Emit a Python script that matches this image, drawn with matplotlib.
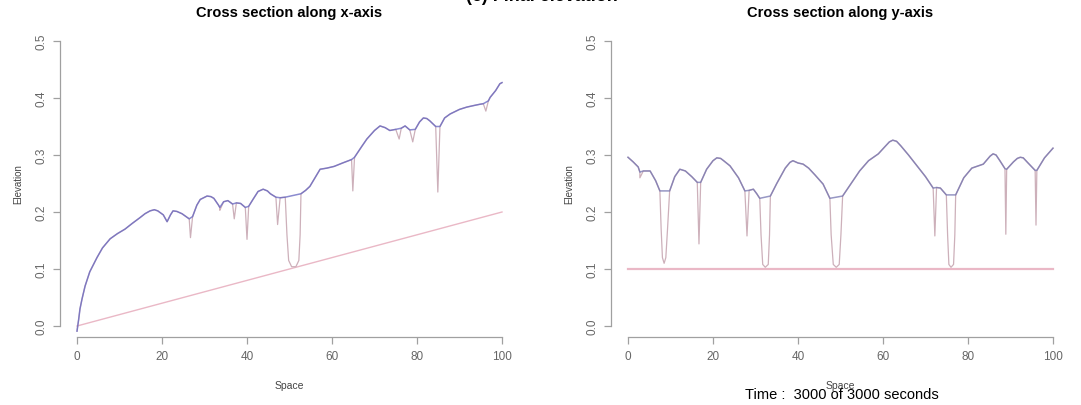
import matplotlib.pyplot as plt
import numpy as np

plt.rcParams['font.family'] = ['Liberation Sans', 'DejaVu Sans']

# along x: free surface (blue, bridges the pits)
sx_x = [0, 0.4, 0.7, 1.2, 1.9, 3.0, 4.7, 6.0, 7.8, 9.5, 11.3, 13, 14.8, 16, 17.2, 18.2, 19,
        20.3, 21.2, 22.0, 22.6, 23.5, 24.7, 26.4, 27.2, 28.2, 29, 30.6, 31.5, 32.2, 33.3,
        33.6, 34.5, 35.5, 36.6, 37.5, 38.5, 39.6, 40.4, 41.4, 42.6, 43.8, 44.8, 45.5, 46.8,
        47.8, 49.0, 52.7, 53.8, 54.8, 56, 57.2, 58.8, 60.5, 62.5, 64.6, 65.3, 67, 68.2, 70,
        71.3, 72.5, 73.6, 75, 76.3, 77.2, 78.3, 79.6, 80.6, 81.5, 82.3, 83, 84.4, 85.4,
        86.5, 87.8, 90, 91.7, 93.5, 94.8, 95.6, 96.8, 97.2, 98.5, 99.5, 100]
sx_y = [-0.009, 0.012, 0.03, 0.048, 0.07, 0.095, 0.12, 0.137, 0.153, 0.162, 0.17, 0.18,
        0.19, 0.197, 0.202, 0.204, 0.202, 0.195, 0.183, 0.195, 0.202, 0.201, 0.197, 0.188,
        0.192, 0.212, 0.222, 0.228, 0.227, 0.224, 0.212, 0.208, 0.218, 0.22, 0.214, 0.216,
        0.215, 0.208, 0.21, 0.222, 0.236, 0.24, 0.237, 0.232, 0.226, 0.225, 0.226, 0.232,
        0.238, 0.245, 0.26, 0.275, 0.277, 0.28, 0.286, 0.292, 0.296, 0.315, 0.328, 0.343,
        0.351, 0.348, 0.343, 0.345, 0.347, 0.351, 0.344, 0.345, 0.358, 0.365, 0.364, 0.36,
        0.35, 0.35, 0.365, 0.372, 0.38, 0.384, 0.387, 0.389, 0.39, 0.395, 0.401, 0.413,
        0.425, 0.427]
# along x: scour holes and spikes down toward the bed
dx_x = [26.7, 33.6, 37.0, 40.0, 47.2, 49.4, 49.8, 50.5, 51.5, 52.2, 52.5, 64.9, 75.8,
        79.0, 84.9, 96.2]
dx_y = [0.155, 0.203, 0.188, 0.152, 0.178, 0.16, 0.115, 0.104, 0.104, 0.115, 0.16, 0.237,
        0.328, 0.323, 0.235, 0.377]
bed_x = [0, 100]
bed_y = [0.0, 0.2]

# along y
sy_x = [0, 1.2, 2.4, 2.8, 3.6, 5.2, 6.5, 7.5, 9.8, 11, 12.2, 13.5, 15, 16.3, 17.1, 18.5,
        20.0, 20.9, 21.8, 22.5, 24, 26, 27.5, 28.5, 29.5, 30.3, 31, 33.5, 35, 37, 38.1,
        38.8, 40, 41.2, 42.5, 44, 45.9, 47.5, 50.5, 52.5, 54.5, 56.6, 58.9, 60.5, 61.5,
        62.3, 63.2, 64.2, 66, 68, 70, 71.8, 72.6, 73.5, 74.9, 77.1, 79, 80.9, 83.6, 85.2,
        85.9, 86.6, 87.5, 88.7, 89.1, 90.7, 91.6, 92.3, 93.0, 94, 95.8, 96.2, 98, 100]
sy_y = [0.296, 0.288, 0.279, 0.27, 0.272, 0.272, 0.255, 0.237, 0.237, 0.262, 0.275, 0.272,
        0.262, 0.252, 0.252, 0.275, 0.29, 0.295, 0.294, 0.29, 0.281, 0.26, 0.237, 0.238,
        0.24, 0.232, 0.224, 0.228, 0.25, 0.277, 0.287, 0.29, 0.286, 0.284, 0.277, 0.265,
        0.249, 0.224, 0.228, 0.25, 0.272, 0.29, 0.302, 0.315, 0.323, 0.326, 0.324, 0.316,
        0.3, 0.281, 0.262, 0.242, 0.243, 0.242, 0.23, 0.23, 0.26, 0.277, 0.284, 0.298,
        0.302, 0.3, 0.29, 0.276, 0.275, 0.288, 0.294, 0.296, 0.295, 0.287, 0.273, 0.273,
        0.295, 0.312]
dy_x = [2.8, 7.8, 8.1, 8.5, 8.9, 9.3, 16.7, 28.0, 31.3, 31.7, 32.3, 33.0, 33.3, 47.8,
        48.3, 49.0, 49.7, 50.1, 72.2, 75.2, 75.5, 76.0, 76.6, 76.9, 88.9, 96.0]
dy_y = [0.26, 0.17, 0.12, 0.11, 0.12, 0.17, 0.144, 0.158, 0.16, 0.108, 0.103, 0.108, 0.16,
        0.16, 0.108, 0.103, 0.108, 0.16, 0.158, 0.16, 0.108, 0.103, 0.108, 0.16, 0.161,
        0.177]
bedy_x = [0, 100]
bedy_y = [0.1, 0.1]


def merged(ax_, ay_, bx_, by_):
    x = np.array(ax_ + bx_)
    y = np.array(ay_ + by_)
    o = np.argsort(x, kind='stable')
    return x[o], y[o]


fig = plt.figure(figsize=(10.81, 4.06), dpi=100)
W, H = 1081, 406


def panel(left, title, sx, sy, dx, dy, bx, by, blue, bedlw):
    ax = fig.add_axes([left / W, (H - 338.4) / H, 459 / W, 307.8 / H])
    px, py = merged(sx, sy, dx, dy)
    ax.plot(bx, by, color='#eab8c6', lw=bedlw)
    ax.plot(px, py, color='#cdb0ba', lw=0.9)
    ax.plot(sx, sy, color=blue, lw=1.1, alpha=0.75)
    ax.set_xlim(-4, 104)
    ax.set_ylim(-0.02, 0.52)
    for s in ['top', 'right']:
        ax.spines[s].set_visible(False)
    ax.spines['left'].set_bounds(0, 0.5)
    ax.spines['bottom'].set_bounds(0, 100)
    for s in ['left', 'bottom']:
        ax.spines[s].set_color('#a0a0a0')
        ax.spines[s].set_linewidth(0.9)
    ax.set_xticks([0, 20, 40, 60, 80, 100])
    ax.set_yticks([0.0, 0.1, 0.2, 0.3, 0.4, 0.5])
    ax.set_yticklabels(['0.0', '0.1', '0.2', '0.3', '0.4', '0.5'], rotation=90, va='center')
    ax.tick_params(colors='#a0a0a0', labelcolor='#666666', labelsize=8.5, length=5,
                   width=0.9, pad=4)
    ax.set_title(title, fontsize=10.5, fontweight='bold', pad=10)
    ax.set_xlabel('Space', fontsize=7.5, color='#444444', labelpad=13)
    ax.set_ylabel('Elevation', fontsize=7, color='#444444', labelpad=9)
    return ax


panel(60, 'Cross section along x-axis', sx_x, sx_y, dx_x, dx_y, bed_x, bed_y,
      '#6464c0', 1.0)
panel(611, 'Cross section along y-axis', sy_x, sy_y, dy_x, dy_y, bedy_x, bedy_y,
      '#7474b0', 1.6)

fig.text(542 / W, 1 - 1.0 / H, '(c) Final elevation', ha='center', va='baseline',
         fontsize=13, fontweight='bold')
fig.text(842 / W, 1 - 395 / H, 'Time :  3000 of 3000 seconds', ha='center',
         va='center', fontsize=10.5)

fig.savefig('out.png', dpi=100)
